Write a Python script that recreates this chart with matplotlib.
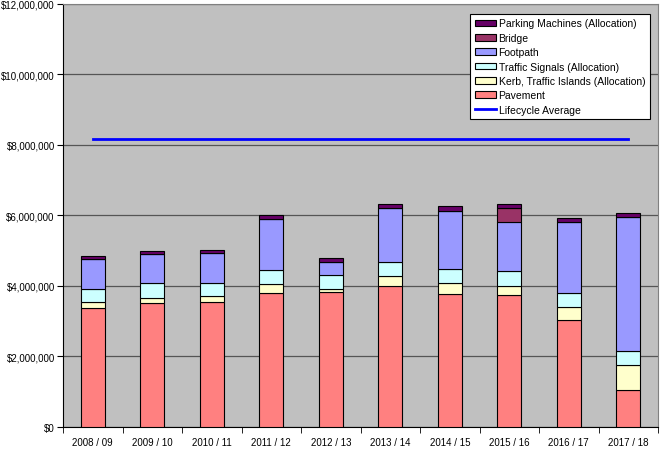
import matplotlib
matplotlib.use('Agg')
import matplotlib.pyplot as plt
import numpy as np
from matplotlib.ticker import FuncFormatter, FixedLocator

plt.rcParams['font.family'] = ['Liberation Sans', 'DejaVu Sans']

# Data (values in dollars)
years = ["2008 / 09", "2009 / 10", "2010 / 11", "2011 / 12", "2012 / 13",
         "2013 / 14", "2014 / 15", "2015 / 16", "2016 / 17", "2017 / 18"]
pavement = [3360000, 3520000, 3540000, 3790000, 3830000, 3990000, 3770000, 3740000, 3020000, 1040000]
kerb = [170000, 140000, 160000, 260000, 70000, 280000, 300000, 270000, 380000, 720000]
signals = [390000, 410000, 390000, 410000, 400000, 410000, 410000, 420000, 390000, 390000]
footpath = [830000, 830000, 830000, 1430000, 380000, 1520000, 1650000, 1380000, 2010000, 3810000]
bridge = [0, 0, 0, 0, 0, 0, 0, 410000, 0, 0]
parking = [100000, 100000, 110000, 110000, 100000, 110000, 120000, 100000, 110000, 100000]
lifecycle_avg = 8160000

series = [
    ("Pavement", pavement, "#FF8080"),
    ("Kerb, Traffic Islands (Allocation)", kerb, "#FFFFCC"),
    ("Traffic Signals (Allocation)", signals, "#CCFFFF"),
    ("Footpath", footpath, "#9999FF"),
    ("Bridge", bridge, "#993366"),
    ("Parking Machines (Allocation)", parking, "#660066"),
]

fig = plt.figure(figsize=(6.6, 4.52), dpi=100)
ax = fig.add_axes([0.0955, 0.053, 0.9015, 0.937])
ax.set_facecolor("#C0C0C0")

x = np.arange(len(years))
bottom = np.zeros(len(years))
handles = {}
for name, vals, color in series:
    vals = np.array(vals, dtype=float)
    h = ax.bar(x, vals, 0.4, bottom=bottom, color=color, edgecolor="black",
               linewidth=0.8, label=name, zorder=3)
    handles[name] = h
    bottom += vals

line, = ax.plot(x, [lifecycle_avg] * len(years), color="#0000FF", linewidth=2,
                label="Lifecycle Average", zorder=4)

ax.set_xlim(-0.5, len(years) - 0.5)
ax.set_ylim(0, 12000000)
ax.set_yticks(np.arange(0, 12000001, 2000000))
ax.yaxis.set_major_formatter(FuncFormatter(lambda v, p: "${:,.0f}".format(v)))
ax.grid(axis="y", color="#555555", linewidth=0.9, zorder=1)

ax.set_xticks(x)
ax.set_xticklabels(years)
ax.xaxis.set_minor_locator(FixedLocator(np.arange(-0.5, len(years), 1.0)))
ax.tick_params(axis="x", which="major", length=0, pad=7)
ax.tick_params(axis="x", which="minor", length=4, direction="out")
ax.tick_params(axis="y", length=4, direction="out", pad=2)
ax.tick_params(labelsize=7, colors="black")

for side in ["top", "right"]:
    ax.spines[side].set_color("#808080")
ax.spines["left"].set_color("black")
ax.spines["bottom"].set_color("black")

order = ["Parking Machines (Allocation)", "Bridge", "Footpath",
         "Traffic Signals (Allocation)", "Kerb, Traffic Islands (Allocation)", "Pavement"]
leg = ax.legend([handles[n] for n in order] + [line], order + ["Lifecycle Average"],
                loc="upper right", bbox_to_anchor=(0.995, 0.988), fontsize=7.5,
                frameon=True, fancybox=False, edgecolor="black", framealpha=1,
                handlelength=2.0, handleheight=0.6, handletextpad=0.25,
                labelspacing=0.42, borderpad=0.45)
leg.get_frame().set_linewidth(0.8)

fig.savefig("out.png", dpi=100)
